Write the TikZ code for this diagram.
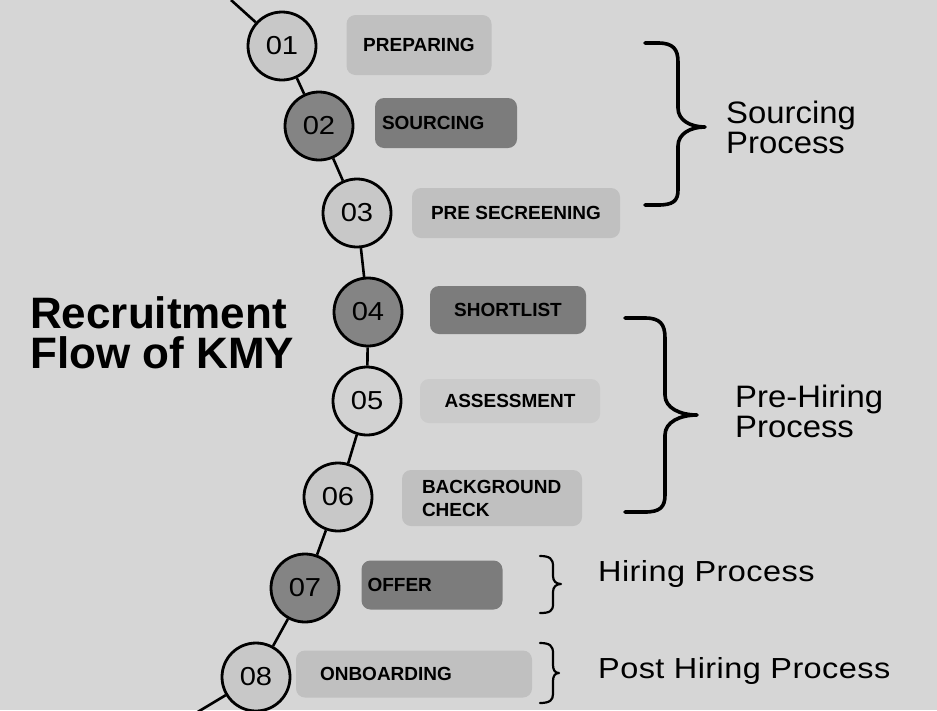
\documentclass[tikz,border=0pt]{standalone}
\usepackage{fontspec}
\setmainfont{Liberation Sans}
\newfontfamily\procfont[FakeStretch=1.06]{Liberation Sans}
\newfontfamily\procwide[FakeStretch=1.12,LetterSpace=1.5]{Liberation Sans}
\newfontfamily\numfont[FakeStretch=1.12]{Liberation Sans}
\definecolor{bgc}{RGB}{214,214,214}
\definecolor{boxlight}{RGB}{192,192,192}
\definecolor{boxfaint}{RGB}{203,203,203}
\definecolor{boxdark}{RGB}{124,124,124}
\definecolor{circlight}{RGB}{200,200,200}
\definecolor{circfaint}{RGB}{210,210,210}
\definecolor{circdark}{RGB}{132,132,132}
\tikzset{
  circ/.style={circle, draw=black, line width=2.8pt, minimum size=68pt, inner sep=0pt,
    font=\numfont\fontsize{26}{30}\selectfont},
  conn/.style={draw=black, line width=2.6pt},
  lbox/.style={rectangle, rounded corners=9pt, inner sep=0pt,
    font=\bfseries\fontsize{19}{23}\selectfont, text=black},
  bigbrace/.style={draw=black, line width=3.6pt, line cap=round, line join=round},
  smallbrace/.style={draw=black, line width=2.2pt, line cap=round, line join=round},
  proc/.style={inner sep=0pt, align=left, text=black},
  titletext/.style={inner sep=0pt, align=left, text=black,
    font=\bfseries\fontsize{44}{40}\selectfont}
}
\begin{document}
\begin{tikzpicture}[x=1pt,y=-1pt]
\useasboundingbox (0,0) rectangle (937,710);
\fill[bgc] (0,0) rectangle (937,710);
\begin{scope}
\clip (0,0) rectangle (937,710);

% connector end points
\coordinate (top) at (231,0);
\coordinate (bot) at (196,713);

% label boxes
\node[lbox, fill=boxlight, minimum width=145pt, minimum height=60pt] (l1) at (419,45) {PREPARING};
\node[lbox, fill=boxdark, text width=128pt, inner xsep=7pt, minimum height=50pt, align=left] (l2) at (446,123) {SOURCING};
\node[lbox, fill=boxlight, minimum width=208pt, minimum height=50pt] (l3) at (516,213) {PRE SECREENING};
\node[lbox, fill=boxdark, minimum width=156pt, minimum height=48pt] (l4) at (508,310) {SHORTLIST};
\node[lbox, fill=boxfaint, minimum width=180pt, minimum height=44pt] (l5) at (510,401) {ASSESSMENT};
\node[lbox, fill=boxlight, text width=140pt, inner xsep=20pt, minimum height=56pt, align=left] (l6) at (492,498) {BACKGROUND\\CHECK};
\node[lbox, fill=boxdark, text width=129pt, inner xsep=6pt, minimum height=49pt, align=left] (l7) at (432,585) {OFFER};
\node[lbox, fill=boxlight, text width=188pt, inner xsep=24pt, minimum height=47pt, align=left] (l8) at (414,674) {ONBOARDING};

% circles
\node[circ, fill=circlight] (c1) at (282,46) {01};
\node[circ, fill=circdark]  (c2) at (319,126) {02};
\node[circ, fill=circlight] (c3) at (357,213) {03};
\node[circ, fill=circdark]  (c4) at (368,312) {04};
\node[circ, fill=circfaint] (c5) at (367,401) {05};
\node[circ, fill=circlight] (c6) at (338,497) {06};
\node[circ, fill=circdark]  (c7) at (305,588) {07};
\node[circ, fill=circlight] (c8) at (256,677) {08};

% connectors
\draw[conn] (top) -- (c1);
\draw[conn] (c1) -- (c2);
\draw[conn] (c2) -- (c3);
\draw[conn] (c3) -- (c4);
\draw[conn] (c4) -- (c5);
\draw[conn] (c5) -- (c6);
\draw[conn] (c6) -- (c7);
\draw[conn] (c7) -- (c8);
\draw[conn] (c8) -- (bot);

% braces
\draw[bigbrace] (645,43) -- (658,43) .. controls (673,43) and (678,49) .. (678,62)
  -- (678,108) .. controls (678,120) and (690,127) .. (705,127)
  .. controls (690,127) and (678,134) .. (678,146)
  -- (678,190) .. controls (678,201) and (673,205) .. (658,205) -- (645,205);
\draw[bigbrace] (625,318) -- (645,318) .. controls (660,318) and (665,324) .. (665,338)
  -- (665,395) .. controls (665,408) and (680,415) .. (697,415)
  .. controls (680,415) and (665,422) .. (665,435)
  -- (665,495) .. controls (665,507) and (660,512) .. (645,512) -- (625,512);
\draw[smallbrace] (540,556) .. controls (550,556) and (553,559) .. (553,566)
  -- (553,576) .. controls (553,581) and (556,584) .. (561,584)
  .. controls (556,584) and (553,587) .. (553,592)
  -- (553,604) .. controls (553,611) and (550,613) .. (540,613);
\draw[smallbrace] (540,643) .. controls (550,643) and (553,646) .. (553,653)
  -- (553,665) .. controls (553,670) and (555,673) .. (559,673)
  .. controls (555,673) and (553,676) .. (553,681)
  -- (553,694) .. controls (553,700) and (550,703) .. (540,703);

% process texts
\node[proc, anchor=west, font=\procfont\fontsize{31}{30}\selectfont] (p1) at (726,127) {Sourcing\\Process};
\node[proc, anchor=west, font=\procfont\fontsize{31}{30}\selectfont] (p2) at (735,411) {Pre-Hiring\\Process};
\node[proc, anchor=base west, font=\procwide\fontsize{29}{32}\selectfont] (p3) at (598,581) {Hiring Process};
\node[proc, anchor=base west, font=\procwide\fontsize{29}{32}\selectfont] (p4) at (598,678) {Post Hiring Process};

% title
\node[titletext, anchor=west] (title) at (30,333) {Recruitment\\Flow of KMY};
\end{scope}
\end{tikzpicture}
\end{document}
